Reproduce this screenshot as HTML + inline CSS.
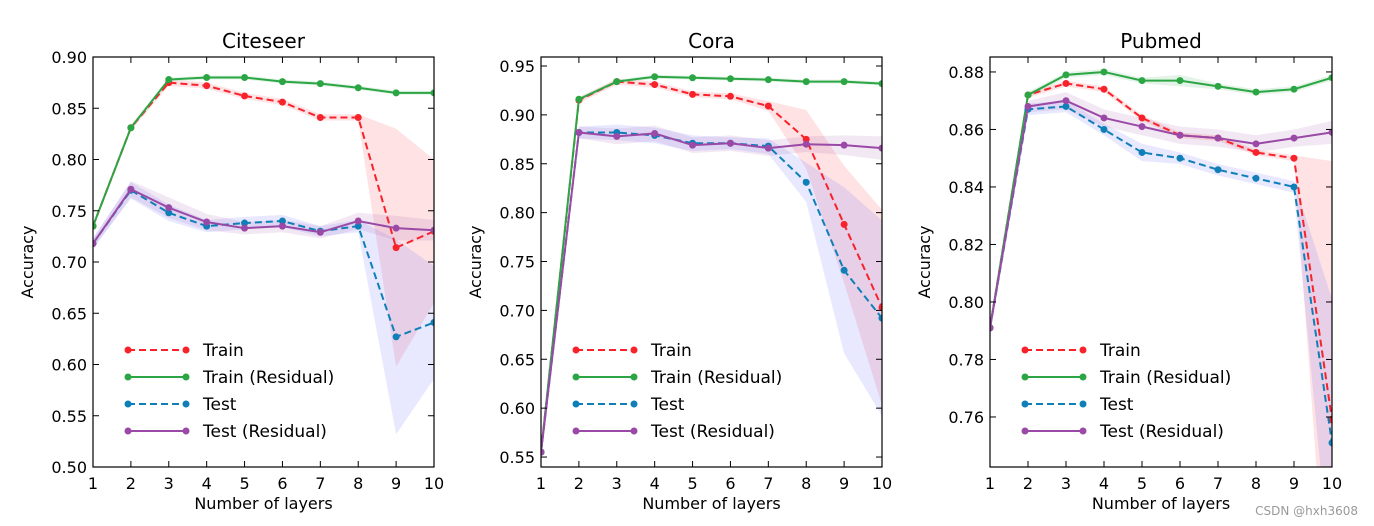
<!DOCTYPE html>
<html><head><meta charset="utf-8"><style>
html,body{margin:0;padding:0;background:#fff;overflow:hidden;width:1374px;height:526px;}
svg{display:block;}
svg text{font-family:"DejaVu Sans","Liberation Sans",sans-serif;fill:#000;}
</style></head><body>
<svg id="fig" width="1374" height="526" viewBox="0 0 1374 526" xmlns="http://www.w3.org/2000/svg">
<text x="1358" y="515" text-anchor="end" font-size="12" fill="#999" style="fill:#999">CSDN @hxh3608</text>
</svg>
<script>
const layers=[1,2,3,4,5,6,7,8,9,10];
const citeTrain=[0.735,0.831,0.875,0.872,0.862,0.856,0.841,0.841,0.714,0.730];
const citeTrainRes=[0.735,0.831,0.878,0.880,0.880,0.876,0.874,0.870,0.865,0.865];
const citeTest=[0.718,0.770,0.748,0.735,0.738,0.740,0.730,0.735,0.627,0.641];
const citeTestRes=[0.718,0.771,0.753,0.739,0.733,0.735,0.729,0.740,0.733,0.731];
const citeTrainStd=[0.003,0.003,0.003,0.003,0.003,0.003,0.003,0.003,0.116,0.07];
const citeTrainResStd=[0.002,0.002,0.002,0.002,0.002,0.002,0.002,0.002,0.002,0.002];
const citeTestStd=[0.005,0.008,0.008,0.006,0.006,0.006,0.005,0.006,0.095,0.055];
const citeTestResStd=[0.005,0.008,0.01,0.008,0.006,0.006,0.006,0.008,0.012,0.01];
const coraTrain=[0.555,0.915,0.934,0.931,0.921,0.919,0.909,0.875,0.788,0.703];
const coraTrainRes=[0.555,0.916,0.934,0.939,0.938,0.937,0.936,0.934,0.934,0.932];
const coraTest=[0.555,0.882,0.882,0.879,0.871,0.871,0.868,0.831,0.741,0.692];
const coraTestRes=[0.555,0.882,0.878,0.881,0.869,0.871,0.866,0.870,0.869,0.866];
const coraTrainStd=[0.005,0.003,0.003,0.003,0.003,0.003,0.005,0.03,0.06,0.1];
const coraTrainResStd=[0.005,0.002,0.002,0.002,0.002,0.002,0.002,0.002,0.002,0.002];
const coraTestStd=[0.005,0.006,0.008,0.008,0.008,0.006,0.008,0.02,0.085,0.1];
const coraTestResStd=[0.005,0.006,0.008,0.008,0.008,0.008,0.008,0.008,0.01,0.012];
const pubTrain=[0.791,0.872,0.876,0.874,0.864,0.858,0.857,0.852,0.850,0.759];
const pubTrainRes=[0.791,0.872,0.879,0.880,0.877,0.877,0.875,0.873,0.874,0.878];
const pubTest=[0.791,0.867,0.868,0.860,0.852,0.850,0.846,0.843,0.840,0.751];
const pubTestRes=[0.791,0.868,0.870,0.864,0.861,0.858,0.857,0.855,0.857,0.859];
const pubTrainStd=[0.001,0.001,0.001,0.001,0.001,0.001,0.001,0.001,0.001,0.09];
const pubTrainResStd=[0.001,0.001,0.001,0.001,0.001,0.002,0.001,0.001,0.001,0.001];
const pubTestStd=[0.001,0.002,0.002,0.002,0.003,0.002,0.002,0.002,0.002,0.05];
const pubTestResStd=[0.001,0.002,0.003,0.003,0.003,0.003,0.003,0.003,0.003,0.004];
const citeTicks=[0.50,0.55,0.60,0.65,0.70,0.75,0.80,0.85,0.90];
const coraTicks=[0.55,0.60,0.65,0.70,0.75,0.80,0.85,0.90,0.95];
const pubTicks=[0.76,0.78,0.80,0.82,0.84,0.86,0.88];
const xTicks=[1,2,3,4,5,6,7,8,9,10];
const seriesNames=["Train","Train (Residual)","Test","Test (Residual)"];
const colors=["#f8222b","#2ca645","#0f7fb8","#9a4aa6"];
const bandColors=["#f8222b","#2ca645","#6666ff","#9a4aa6"];
const dashed=[true,false,true,false];

const NS="http://www.w3.org/2000/svg";
const svg=document.getElementById('fig');
function mk(tag,attrs,parent){const e=document.createElementNS(NS,tag);for(const k in attrs)e.setAttribute(k,attrs[k]);(parent||svg).appendChild(e);return e;}

function panel(key,title,x0,x1,y0,y1,ymin,ymax,ticks,dec,series,stds){
  const g=mk('g',{});
  
  
  const sx=v=>x0+(v-1)/9*(x1-x0);
  const sy=v=>y1-(v-ymin)/(ymax-ymin)*(y1-y0);
  const clipId='clip-'+key;
  const cp=mk('clipPath',{id:clipId},g);
  mk('rect',{x:x0,y:y0,width:x1-x0,height:y1-y0},cp);
  const pg=mk('g',{'clip-path':'url(#'+clipId+')'},g);
  series.forEach((s,i)=>{
    let top=layers.map((l,j)=>sx(l)+','+sy(s[j]+stds[i][j]));
    let bot=layers.map((l,j)=>sx(l)+','+sy(s[j]-stds[i][j])).reverse();
    const b=mk('polygon',{points:top.concat(bot).join(' '),fill:bandColors[i],'fill-opacity':i==2?0.15:0.13,stroke:'none'},pg);
    
    
  });
  series.forEach((s,i)=>{
    const pts=layers.map((l,j)=>sx(l)+','+sy(s[j])).join(' ');
    const ln=mk('polyline',{points:pts,fill:'none',stroke:colors[i],'stroke-width':2,'stroke-dasharray':dashed[i]?'7,4':'none'},pg);
    
    
    layers.forEach((l,j)=>{
      const c=mk('circle',{cx:sx(l),cy:sy(s[j]),r:3.5,fill:colors[i]},pg);
      
      
    });
  });
  const fr=mk('rect',{x:x0,y:y0,width:x1-x0,height:y1-y0,fill:'none',stroke:'#000','stroke-width':1.2},g);
  
  
  ticks.forEach(t=>{
    const y=sy(t);
    mk('line',{x1:x0,x2:x0+6,y1:y,y2:y,stroke:'#000'},g);
    mk('line',{x1:x1,x2:x1-6,y1:y,y2:y,stroke:'#000'},g);
    const tx=mk('text',{x:x0-6,y:y+6,'text-anchor':'end','font-size':16},g);
    tx.textContent=t.toFixed(dec);
    
    
  });
  xTicks.forEach(t=>{
    const x=sx(t);
    mk('line',{x1:x,x2:x,y1:y1,y2:y1-6,stroke:'#000'},g);
    mk('line',{x1:x,x2:x,y1:y0,y2:y0+6,stroke:'#000'},g);
    const tx=mk('text',{x:x,y:y1+22,'text-anchor':'middle','font-size':16},g);
    tx.textContent=t;
    
    
  });
  const tt=mk('text',{x:(x0+x1)/2,y:y0-9,'text-anchor':'middle','font-size':20},g);
  tt.textContent=title;
  
  
  const xl=mk('text',{x:(x0+x1)/2,y:y1+42,'text-anchor':'middle','font-size':16},g);
  xl.textContent='Number of layers';
  
  
  const yl=mk('text',{x:0,y:0,'text-anchor':'middle','font-size':16,transform:'translate('+(x0-60)+','+((y0+y1)/2)+') rotate(-90)'},g);
  yl.textContent='Accuracy';
  
  
  seriesNames.forEach((n,i)=>{
    const ly=350+i*27-57+y0;
    const lg=mk('g',{},g);
    
    
    mk('line',{x1:x0+35,x2:x0+93,y1:ly,y2:ly,stroke:colors[i],'stroke-width':2,'stroke-dasharray':dashed[i]?'7,4':'none'},lg);
    mk('circle',{cx:x0+35,cy:ly,r:3.5,fill:colors[i]},lg);
    mk('circle',{cx:x0+93,cy:ly,r:3.5,fill:colors[i]},lg);
    const t=mk('text',{x:x0+110,y:ly+6,'font-size':17},lg);
    t.textContent=n;
  });
}
panel('citeseer','Citeseer',93,434,57,467,0.50,0.90,citeTicks,2,[citeTrain,citeTrainRes,citeTest,citeTestRes],[citeTrainStd,citeTrainResStd,citeTestStd,citeTestResStd]);
panel('cora','Cora',541,882,57,467,0.5398,0.9592,coraTicks,2,[coraTrain,coraTrainRes,coraTest,coraTestRes],[coraTrainStd,coraTrainResStd,coraTestStd,coraTestResStd]);
panel('pubmed','Pubmed',990,1332,57,467,0.7426,0.8852,pubTicks,2,[pubTrain,pubTrainRes,pubTest,pubTestRes],[pubTrainStd,pubTrainResStd,pubTestStd,pubTestResStd]);
</script>
</body></html>
